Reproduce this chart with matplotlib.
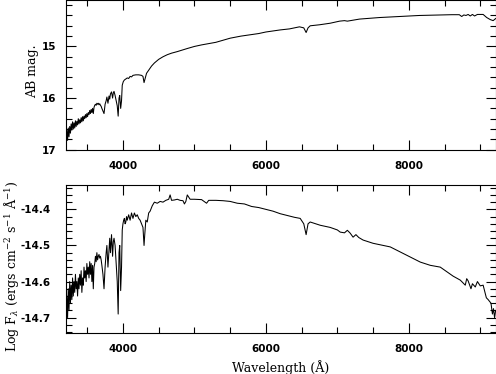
import numpy as np
import matplotlib
matplotlib.use("Agg")
import matplotlib.pyplot as plt
from matplotlib.ticker import MultipleLocator

# ---------------- data ----------------
wave_blue = [3205, 3215, 3225, 3235, 3245, 3255, 3265, 3275, 3285, 3295,
             3305, 3315, 3325, 3335, 3345, 3355, 3365, 3375, 3385, 3395,
             3405, 3415, 3425, 3435, 3445, 3455, 3465, 3475, 3485, 3495,
             3505, 3515, 3525, 3535, 3545, 3555, 3565, 3575, 3585, 3595,
             3605, 3615, 3625, 3635, 3645, 3655, 3665, 3675, 3685, 3695,
             3705, 3720, 3735, 3750, 3765, 3775, 3790, 3805, 3815, 3825,
             3840, 3855, 3865, 3875, 3890, 3905, 3920, 3933, 3945, 3955,
             3968, 3980, 3990]

mag_blue = [16.90, 16.62, 16.82, 16.58, 16.75, 16.55, 16.68, 16.50, 16.62, 16.46,
            16.60, 16.48, 16.58, 16.44, 16.55, 16.45, 16.52, 16.40, 16.50, 16.42,
            16.48, 16.38, 16.46, 16.36, 16.44, 16.35, 16.40, 16.32, 16.38, 16.30,
            16.36, 16.28, 16.32, 16.24, 16.30, 16.22, 16.28, 16.20, 16.30, 16.18,
            16.14, 16.12, 16.14, 16.10, 16.12, 16.10, 16.13, 16.11, 16.14, 16.16,
            16.20, 16.25, 16.30, 16.12, 16.05, 15.98, 16.10, 15.96, 16.02, 15.92,
            15.88, 16.00, 15.90, 15.87, 15.95, 16.05, 16.15, 16.35, 16.00, 15.95,
            16.20, 16.05, 15.75]

logf_blue = [-14.72, -14.64, -14.70, -14.62, -14.68, -14.60, -14.66, -14.61, -14.65, -14.59,
             -14.64, -14.60, -14.63, -14.58, -14.62, -14.60, -14.64, -14.59, -14.62, -14.58,
             -14.61, -14.57, -14.63, -14.59, -14.61, -14.56, -14.59, -14.57, -14.60, -14.55,
             -14.58, -14.56, -14.59, -14.545, -14.58, -14.55, -14.60, -14.555, -14.62, -14.56,
             -14.55, -14.53, -14.545, -14.52, -14.54, -14.53, -14.525, -14.535, -14.53, -14.54,
             -14.555, -14.58, -14.62, -14.56, -14.52, -14.50, -14.56, -14.51, -14.48, -14.52,
             -14.47, -14.53, -14.49, -14.48, -14.50, -14.55, -14.60, -14.69, -14.52, -14.50,
             -14.625, -14.56, -14.457]

wave_red_mag = [4005, 4020, 4040, 4060, 4080, 4100, 4120, 4140, 4180, 4220,
                4260, 4280, 4295, 4310, 4330, 4360, 4400, 4440, 4500, 4560,
                4620, 4680, 4760, 4830, 4900, 5000, 5100, 5215, 5300, 5400,
                5500, 5650, 5800, 5900, 6000, 6100, 6200, 6330, 6470, 6530,
                6563, 6590, 6620, 6752, 6900, 7031, 7100, 7140, 7310, 7590,
                7869, 8148, 8427, 8600, 8706, 8740, 8770, 8800, 8830, 8860,
                8890, 8920, 8960, 9000, 9040, 9090, 9140, 9180, 9215]

mag_red = [15.68, 15.65, 15.63, 15.61, 15.62, 15.58, 15.59, 15.56, 15.55, 15.55,
           15.56, 15.58, 15.70, 15.62, 15.52, 15.46, 15.38, 15.32, 15.25, 15.20,
           15.16, 15.13, 15.10, 15.07, 15.04, 15.00, 14.97, 14.94, 14.92, 14.88,
           14.84, 14.80, 14.77, 14.75, 14.72, 14.70, 14.68, 14.66, 14.62, 14.64,
           14.73, 14.64, 14.60, 14.58, 14.55, 14.51, 14.50, 14.51, 14.47, 14.44,
           14.42, 14.40, 14.39, 14.385, 14.385, 14.42, 14.39, 14.40, 14.38, 14.41,
           14.38, 14.41, 14.38, 14.38, 14.38, 14.44, 14.48, 14.50, 14.46]

wave_red_flux = [4000, 4010, 4020, 4030, 4040, 4050, 4060, 4080, 4100, 4120,
                 4140, 4160, 4180, 4200, 4220, 4240, 4260, 4280, 4295, 4305,
                 4320, 4340, 4360, 4380, 4410, 4440, 4480, 4520, 4560, 4600,
                 4640, 4660, 4680, 4720, 4760, 4800, 4840, 4860, 4880, 4900,
                 4940, 5000, 5100, 5170, 5200, 5300, 5400, 5500, 5600, 5700,
                 5800, 5900, 6000, 6100, 6200, 6300, 6400, 6480, 6530, 6563,
                 6590, 6620, 6700, 6760, 6900, 7000, 7040, 7100, 7140, 7180,
                 7220, 7260, 7300, 7360, 7500, 7640, 7740, 7880, 8020, 8160,
                 8300, 8440, 8540, 8620, 8720, 8790, 8810, 8830, 8870, 8890,
                 8930, 8960, 9000, 9040, 9085, 9110, 9150, 9170, 9185, 9200,
                 9215]

logf_red = [-14.44, -14.43, -14.425, -14.44, -14.435, -14.42, -14.43, -14.415, -14.43, -14.41,
            -14.425, -14.41, -14.42, -14.415, -14.425, -14.43, -14.44, -14.45, -14.50, -14.47,
            -14.43, -14.435, -14.41, -14.405, -14.39, -14.38, -14.383, -14.378, -14.38, -14.375,
            -14.372, -14.36, -14.375, -14.374, -14.372, -14.375, -14.376, -14.385, -14.378, -14.36,
            -14.372, -14.372, -14.373, -14.383, -14.375, -14.375, -14.376, -14.378, -14.383, -14.385,
            -14.392, -14.395, -14.40, -14.405, -14.412, -14.417, -14.422, -14.425, -14.44, -14.47,
            -14.44, -14.435, -14.44, -14.444, -14.45, -14.457, -14.463, -14.465, -14.458, -14.466,
            -14.477, -14.470, -14.478, -14.485, -14.494, -14.50, -14.504, -14.518, -14.532, -14.546,
            -14.555, -14.56, -14.574, -14.585, -14.596, -14.61, -14.592, -14.598, -14.62, -14.606,
            -14.615, -14.600, -14.612, -14.61, -14.645, -14.65, -14.66, -14.69, -14.675, -14.70,
            -14.68]

x_ticks = [4000, 6000, 8000]
top_ticks = [15, 16, 17]
top_tick_labels = ["15", "16", "17"]
bot_ticks = [-14.4, -14.5, -14.6, -14.7]
bot_tick_labels = ["-14.4", "-14.5", "-14.6", "-14.7"]

# ---------------- figure ----------------
plt.rcParams["mathtext.fontset"] = "dejavuserif"
W, H = 496, 374
fig = plt.figure(figsize=(W / 100, H / 100), dpi=100)

def px_axes(left, top, right, bottom):
    return fig.add_axes([left / W, 1 - bottom / H, (right - left) / W, (bottom - top) / H])

ax1 = px_axes(66, 0.5, 495.5, 149.7)
ax2 = px_axes(66, 185, 495.5, 333)

wave_mag = np.array(wave_blue + wave_red_mag)
mag = np.array(mag_blue + mag_red)
wave_f = np.array(wave_blue + wave_red_flux)
logf = np.array(logf_blue + logf_red)

ax1.plot(wave_mag, mag, color="black", lw=0.75)
ax2.plot(wave_f, logf, color="black", lw=0.75)

tickfont = dict(family="DejaVu Sans", weight="bold", size=7.5)
labelfont = dict(family="DejaVu Serif", size=9)

for ax in (ax1, ax2):
    ax.set_xlim(3203, 9213)
    ax.set_xticks(x_ticks)
    ax.set_xticklabels([str(t) for t in x_ticks], **tickfont)
    ax.xaxis.set_minor_locator(MultipleLocator(500))
    ax.tick_params(which="both", direction="in", top=True, right=True,
                   width=0.8, color="black")
    ax.tick_params(which="major", length=7)
    ax.tick_params(which="minor", length=4.5)
    ax.tick_params(axis="x", pad=8)
    for s in ax.spines.values():
        s.set_linewidth(0.8)

ax1.set_ylim(17, 14.11)
ax1.set_yticks(top_ticks)
ax1.set_yticklabels(top_tick_labels, **tickfont)
ax1.yaxis.set_minor_locator(MultipleLocator(0.2))
ax1.tick_params(axis="y", pad=7)
ax1.set_ylabel("AB mag.", va="center", **labelfont)
ax1.yaxis.set_label_coords(-0.077, 0.526)

ax2.set_ylim(-14.7425, -14.3325)
ax2.set_yticks(bot_ticks)
ax2.set_yticklabels(bot_tick_labels, **tickfont)
ax2.yaxis.set_minor_locator(MultipleLocator(0.02))
ax2.tick_params(axis="y", pad=11)
ax2.set_ylabel(r"Log F$_\lambda$ (ergs cm$^{-2}$ s$^{-1}$ Å$^{-1}$)", va="center", **labelfont)
ax2.yaxis.set_label_coords(-0.128, 0.453)
ax2.set_xlabel("Wavelength (Å)", va="center", **labelfont)
ax2.xaxis.set_label_coords(0.5, -0.236)

fig.savefig("out.png", dpi=100)
